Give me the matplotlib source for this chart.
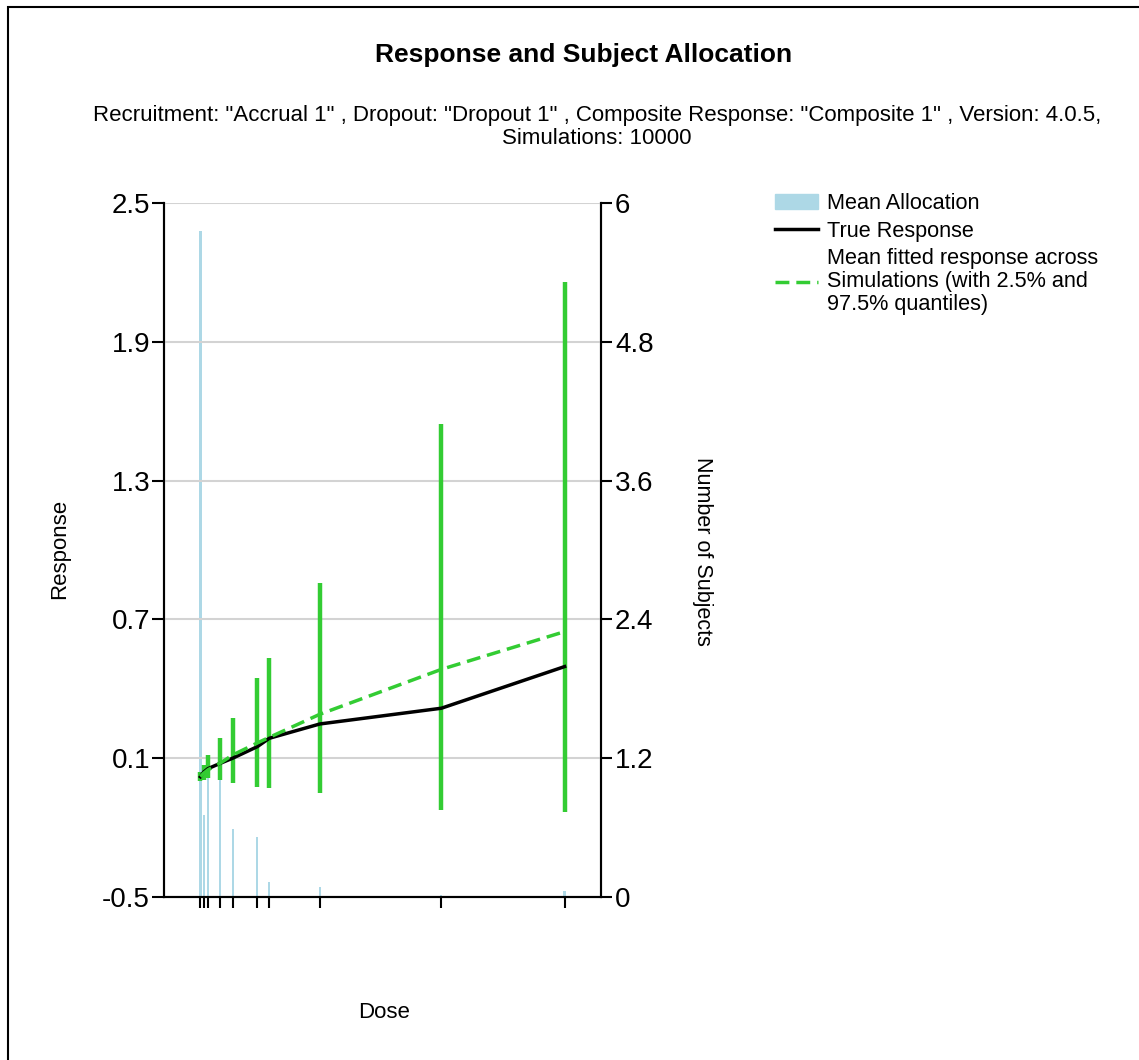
import numpy as np
import matplotlib.pyplot as plt
from matplotlib.patches import Patch, Rectangle
from matplotlib.lines import Line2D

plt.rcParams['font.family'] = ['Liberation Sans', 'DejaVu Sans']

# doses (x positions of ticks / groups)
doses = [0, 0.27, 0.63, 1.64, 2.66, 4.69, 5.67, 9.84, 19.85, 30]
# mean number of subjects allocated per dose (right axis)
mean_alloc = [5.76, 0.71, 1.1, 1.05, 0.59, 0.52, 0.13, 0.09, 0.02, 0.05]
# true response (left axis)
true_resp = [0.02, 0.04, 0.055, 0.078, 0.10, 0.15, 0.186, 0.248, 0.316, 0.496]
# mean fitted response across simulations
fit_mean = [0.02, 0.035, 0.05, 0.079, 0.114, 0.166, 0.19, 0.29, 0.484, 0.647]
# 2.5% and 97.5% quantiles
fit_lo = [0.0, 0.005, 0.014, 0.006, -0.007, -0.024, -0.029, -0.05, -0.124, -0.131]
fit_hi = [0.04, 0.07, 0.114, 0.187, 0.274, 0.447, 0.533, 0.858, 1.545, 2.16]

resp_ticks = [-0.5, 0.1, 0.7, 1.3, 1.9, 2.5]
subj_ticks = [0, 1.2, 2.4, 3.6, 4.8, 6]

W, H = 1139, 1060
fig = plt.figure(figsize=(W / 100, H / 100), dpi=100)
ax = fig.add_axes([164 / W, 1 - 897 / H, 437 / W, 694 / H])
ax2 = ax.twinx()

# allocation bars go behind the response lines
ax2.bar(doses, mean_alloc, width=0.18, color='#ADD8E6', zorder=1)
ax2.set_ylim(0, 6)
ax2.set_yticks(subj_ticks)
ax2.set_yticklabels([f'{t:g}' for t in subj_ticks])
ax.set_zorder(ax2.get_zorder() + 1)
ax.patch.set_visible(False)

green = '#33CC33'
ax.vlines(doses, fit_lo, fit_hi, color=green, lw=3.2, zorder=3)
ax.plot(doses, true_resp, color='black', lw=2.5, zorder=4)
ax.plot(doses, fit_mean, color=green, lw=2.5, ls=(0, (4, 2)), zorder=5)

ax.set_xlim(-3, 33)
ax.set_ylim(-0.5, 2.5)
ax.set_yticks(resp_ticks)
ax.set_yticklabels([f'{t:g}' for t in resp_ticks])
ax.set_xticks(doses)
ax.set_xticklabels([])
ax.grid(axis='y', color='#D3D3D3', lw=1.5, zorder=0)
ax.set_axisbelow(True)

for a in (ax, ax2):
    a.spines['top'].set_visible(False)
    for s in ('left', 'right', 'bottom'):
        a.spines[s].set_color('black')
        a.spines[s].set_linewidth(1.5)
ax.tick_params(axis='y', labelsize=20, length=9, width=1.5, pad=1)
ax2.tick_params(axis='y', labelsize=20, length=8, width=1.5, pad=2)
ax.tick_params(axis='x', length=8, width=1.5)

ax.set_xlabel('Dose', fontsize=16)
ax.xaxis.set_label_coords(0.503, -0.151)
ax.set_ylabel('Response', fontsize=16)
ax.yaxis.set_label_coords(-0.215, 0.501)
ax2.set_ylabel('Number of Subjects', fontsize=15.5, rotation=270, va='center')
ax2.yaxis.set_label_coords(1.233, 0.4986)

fig.text(584 / W, 1 - 55 / H, 'Response and Subject Allocation',
         ha='center', va='center', fontsize=19, fontweight='bold')
fig.text(597 / W, 1 - 127 / H,
         'Recruitment: "Accrual 1" , Dropout: "Dropout 1" , Composite Response: '
         '"Composite 1" , Version: 4.0.5,\nSimulations: 10000',
         ha='center', va='center', fontsize=16, linespacing=1.15)

handles = [Patch(color='#ADD8E6'),
           Line2D([], [], color='black', lw=2.5),
           Line2D([], [], color=green, lw=2.5, ls=(0, (4, 2)))]
labels = ['Mean Allocation', 'True Response',
          'Mean fitted response across\nSimulations (with 2.5% and\n97.5% quantiles)']
leg = fig.legend(handles, labels, loc='upper left', bbox_to_anchor=(775 / W, 1 - 193 / H),
                 frameon=False, fontsize=15.6, handlelength=2.0, handletextpad=0.42,
                 labelspacing=0.3, borderaxespad=0, borderpad=0)
for t in leg.get_texts():
    t.set_linespacing(1.12)

# outer frame
fig.patches.append(Rectangle((8 / W, -0.01), 1.2, 1 - 7 / H + 0.01, transform=fig.transFigure,
                             fill=False, edgecolor='black', lw=1.5))

fig.savefig('out.png', dpi=100)
